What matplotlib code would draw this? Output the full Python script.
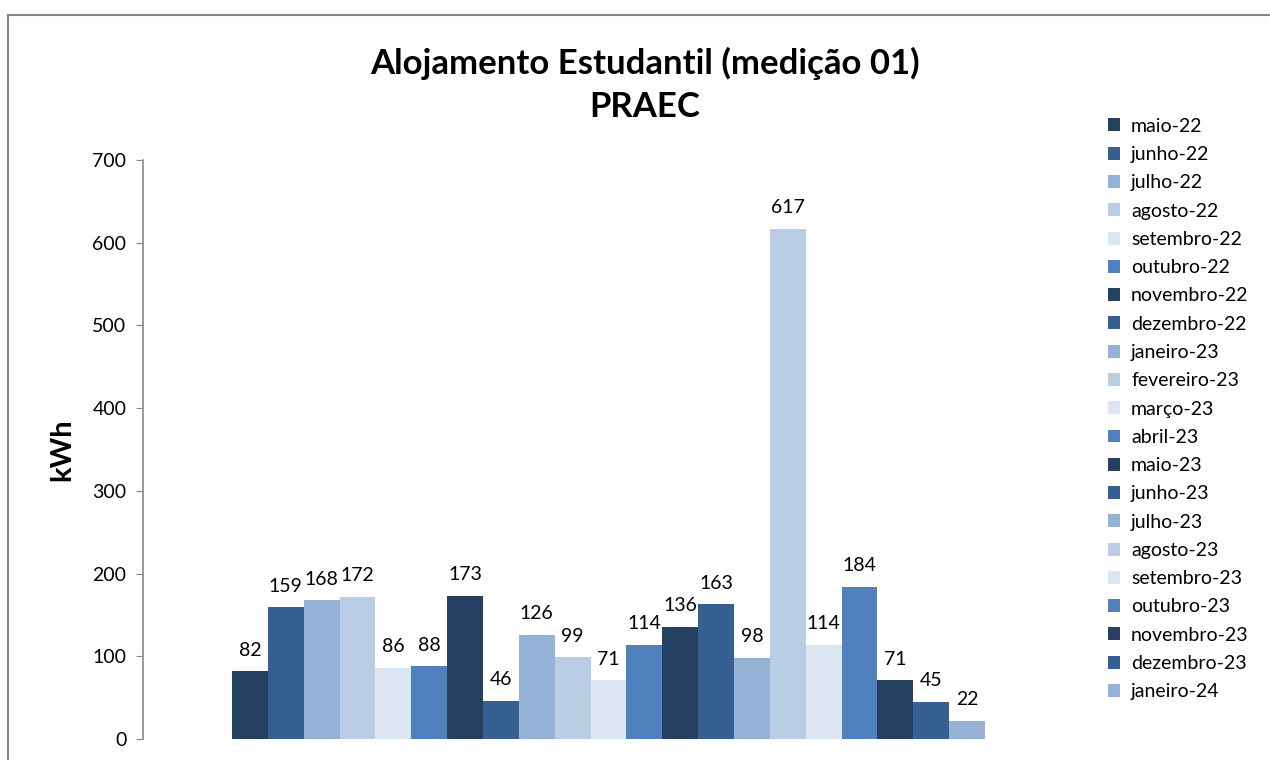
import matplotlib.pyplot as plt
from matplotlib.patches import Patch, Rectangle

meses = ["maio-22", "junho-22", "julho-22", "agosto-22", "setembro-22", "outubro-22",
         "novembro-22", "dezembro-22", "janeiro-23", "fevereiro-23", "março-23", "abril-23",
         "maio-23", "junho-23", "julho-23", "agosto-23", "setembro-23", "outubro-23",
         "novembro-23", "dezembro-23", "janeiro-24"]
kwh = [82, 159, 168, 172, 86, 88, 173, 46, 126, 99, 71, 114,
       136, 163, 98, 617, 114, 184, 71, 45, 22]
paleta = ["#254061", "#376092", "#95B3D7", "#B9CDE5", "#DCE6F2", "#4F81BD"]
yticks = [0, 100, 200, 300, 400, 500, 600, 700]

plt.rcParams['font.family'] = ['Lato', 'DejaVu Sans']

fig = plt.figure(figsize=(12.7, 7.6), dpi=100)
fig.patches.append(Rectangle((8 / 1270, -0.1), 1.1, 1.1 - 15 / 760,
                             transform=fig.transFigure, fill=False,
                             edgecolor="#868686", linewidth=1.5))
ax = fig.add_axes([143 / 1270, 1 - 739 / 760, (1074 - 143) / 1270, (739 - 160) / 760])

cores = [paleta[i % 6] for i in range(len(kwh))]
x = list(range(len(kwh)))
ax.bar(x, kwh, width=1.0, color=cores, linewidth=0)
for xi, v in zip(x, kwh):
    ax.annotate(str(v), (xi, v), xytext=(0, 9), textcoords="offset points",
                ha="center", va="bottom", fontsize=14)

ax.set_xlim(-2.98, len(kwh) - 1 + 2.98)
ax.set_ylim(0, 700)
ax.set_yticks(yticks)
ax.tick_params(axis="y", labelsize=14, length=5, color="#868686", pad=7)
ax.set_xticks([])
for s in ["top", "right", "bottom"]:
    ax.spines[s].set_visible(False)
ax.spines["left"].set_color("#868686")
ax.spines["left"].set_linewidth(1.2)
ax.set_ylabel("kWh", fontsize=21, fontweight="bold", labelpad=12)

fig.text(645 / 1270, 1 - 85 / 760, "Alojamento Estudantil (medição 01)\nPRAEC",
         ha="center", va="center", fontsize=25, fontweight="bold", linespacing=1.42)

handles = [Patch(facecolor=c, edgecolor="none") for c in cores]
fig.legend(handles, meses, loc="upper left", bbox_to_anchor=(1100 / 1270, 1 - 110 / 760),
           frameon=False, fontsize=14, handlelength=0.65, handleheight=0.65,
           handletextpad=0.55, labelspacing=0.58, borderaxespad=0)

fig.savefig("out.png", dpi=100)
